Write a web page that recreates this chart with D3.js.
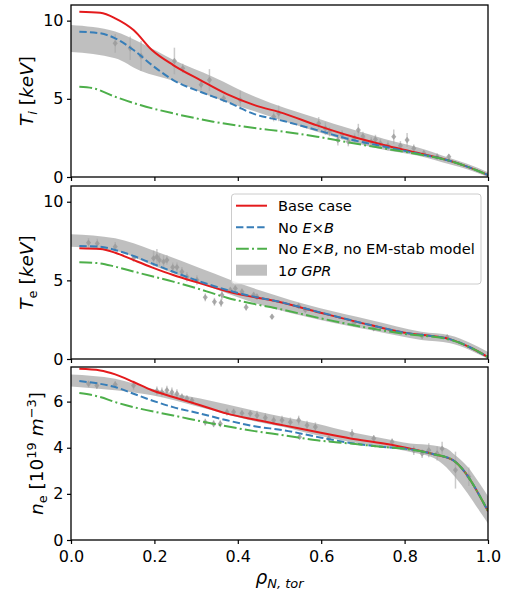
<!DOCTYPE html>
<html>
<head>
<meta charset="utf-8">
<script src="https://cdn.jsdelivr.net/npm/d3@7"></script>
<style>
  body { margin: 0; background: #fff; }
  svg { display: block; font-family: "DejaVu Sans", sans-serif; }
</style>
</head>
<body>
<svg id="chart"></svg>
<script>
// ---- data: [rho, value] ----
const xTicks = [0, 0.2, 0.4, 0.6, 0.8, 1.0];

const tiBase = [[0.02,10.57],[0.07,10.5],[0.106,10.15],[0.15,9.4],[0.194,8.12],[0.245,7.16],[0.31,6.2],[0.374,5.3],[0.44,4.6],[0.51,4.07],[0.59,3.3],[0.67,2.62],[0.75,2.05],[0.83,1.55],[0.91,1.02],[0.95,0.66],[1.0,0.13]];
const tiNoExB = [[0.02,9.29],[0.07,9.19],[0.106,8.87],[0.15,8.12],[0.194,7.16],[0.245,6.2],[0.31,5.45],[0.374,4.81],[0.44,4.02],[0.51,3.58],[0.59,3.0],[0.67,2.4],[0.75,1.95],[0.83,1.5],[0.91,1.02],[0.95,0.66],[1.0,0.13]];
const tiNoEM = [[0.02,5.77],[0.054,5.67],[0.106,5.13],[0.166,4.6],[0.245,4.07],[0.341,3.54],[0.44,3.13],[0.51,2.9],[0.59,2.58],[0.67,2.19],[0.75,1.83],[0.83,1.47],[0.91,1.02],[0.95,0.66],[1.0,0.13]];
// [rho, low, high]
const tiGpr = [[0,8.0,9.72],[0.106,7.6,9.3],[0.166,6.8,8.6],[0.245,6.15,7.5],[0.341,5.1,6.4],[0.44,4.2,5.15],[0.59,2.9,3.75],[0.75,1.75,2.45],[0.83,1.38,1.9],[0.91,0.8,1.2],[0.95,0.5,0.85],[1.0,0.0,0.3]];
// [rho, value, error]
const tiPts = [[0.106,8.55,0.6],[0.142,8.23,0.75],[0.168,7.74,0.95],[0.248,7.42,0.85],[0.268,6.95,0.3],[0.312,5.9,0.35],[0.332,6.2,0.7],[0.366,5.03,0.25],[0.406,4.92,0.6],[0.486,3.86,0.3],[0.498,4.07,0.5],[0.594,3.43,0.4],[0.61,3.1,0.4],[0.62,2.9,0.3],[0.64,2.37,0.35],[0.65,2.7,0.3],[0.665,2.26,0.3],[0.68,2.5,0.3],[0.689,3.0,0.4],[0.7,2.6,0.3],[0.704,2.26,0.3],[0.72,2.26,0.3],[0.73,2.4,0.3],[0.742,2.15,0.3],[0.76,2.0,0.3],[0.774,2.58,0.45],[0.79,2.0,0.3],[0.806,2.37,0.45],[0.822,1.83,0.25],[0.846,1.52,0.2],[0.878,1.3,0.2],[0.906,1.3,0.15]];

const teBase = [[0.02,7.04],[0.07,6.99],[0.106,6.76],[0.15,6.29],[0.194,5.83],[0.245,5.34],[0.31,4.81],[0.374,4.3],[0.454,3.86],[0.478,3.75],[0.598,2.94],[0.718,2.16],[0.8,1.67],[0.91,1.25],[0.96,0.7],[1.0,0.12]];
const teNoExB = [[0.02,7.18],[0.07,7.14],[0.106,6.93],[0.15,6.55],[0.194,6.08],[0.245,5.55],[0.31,4.92],[0.374,4.39],[0.454,3.88],[0.478,3.76],[0.598,2.96],[0.718,2.16],[0.8,1.67],[0.91,1.25],[0.96,0.7],[1.0,0.12]];
const teNoEM = [[0.02,6.15],[0.07,6.08],[0.106,5.87],[0.166,5.45],[0.245,4.92],[0.31,4.43],[0.374,3.9],[0.454,3.42],[0.478,3.3],[0.598,2.59],[0.718,1.95],[0.8,1.6],[0.91,1.22],[0.96,0.7],[1.0,0.12]];
const teGpr = [[0,7.14,7.93],[0.106,6.88,7.67],[0.194,5.98,6.93],[0.31,4.81,5.77],[0.454,3.45,4.35],[0.598,2.48,3.22],[0.718,1.84,2.48],[0.84,1.21,1.74],[0.91,1.0,1.5],[1.0,0.0,0.45]];
const tePts = [[0.042,7.39,0.3],[0.063,7.35,0.3],[0.106,7.14,0.3],[0.15,6.4,0.2],[0.198,6.4,0.5],[0.206,6.5,0.5],[0.212,6.29,0.4],[0.222,6.19,0.4],[0.23,6.29,0.3],[0.244,5.83,0.3],[0.254,5.83,0.3],[0.266,5.55,0.3],[0.278,5.23,0.3],[0.302,5.02,0.3],[0.322,3.92,0.25],[0.344,3.64,0.25],[0.36,3.58,0.25],[0.362,4.07,0.3],[0.382,4.39,0.2],[0.394,4.49,0.2],[0.41,4.28,0.2],[0.42,3.29,0.2],[0.438,4.07,0.2],[0.446,3.96,0.2],[0.482,2.69,0.15],[0.546,3.37,0.15],[0.562,3.12,0.15],[0.678,2.27,0.15],[0.726,1.95,0.15],[0.842,1.46,0.15],[0.902,1.38,0.15]];

const neBase = [[0.02,7.42],[0.07,7.35],[0.106,7.18],[0.15,6.85],[0.194,6.49],[0.245,6.2],[0.31,5.84],[0.374,5.48],[0.44,5.22],[0.51,4.97],[0.59,4.68],[0.67,4.4],[0.75,4.18],[0.814,3.96],[0.87,3.72],[0.916,3.46],[1.0,1.25]];
const neNoExB = [[0.02,6.89],[0.07,6.77],[0.106,6.63],[0.15,6.34],[0.194,6.05],[0.245,5.76],[0.31,5.48],[0.374,5.19],[0.44,4.93],[0.51,4.76],[0.59,4.47],[0.67,4.21],[0.75,4.03],[0.814,3.93],[0.87,3.72],[0.916,3.46],[1.0,1.25]];
const neNoEM = [[0.02,6.37],[0.07,6.2],[0.106,5.98],[0.166,5.69],[0.245,5.4],[0.341,5.04],[0.44,4.72],[0.51,4.54],[0.59,4.32],[0.67,4.18],[0.75,4.03],[0.814,3.92],[0.87,3.72],[0.916,3.46],[1.0,1.25]];
const neGpr = [[0,6.66,7.18],[0.106,6.49,6.99],[0.194,6.27,6.56],[0.31,5.76,6.13],[0.44,5.15,5.6],[0.51,4.9,5.33],[0.59,4.54,5.04],[0.67,4.25,4.68],[0.75,4.03,4.4],[0.814,3.82,4.18],[0.87,3.55,4.1],[0.9,3.15,3.98],[0.92,2.75,3.7],[0.95,2.05,3.2],[0.98,1.25,2.45],[1.0,0.72,1.9]];
const nePts = [[0.042,6.77,0.15],[0.062,6.7,0.15],[0.106,6.74,0.15],[0.15,6.7,0.2],[0.206,6.46,0.2],[0.218,6.41,0.2],[0.23,6.49,0.2],[0.242,6.41,0.2],[0.254,6.34,0.2],[0.266,6.2,0.15],[0.278,6.13,0.15],[0.29,6.05,0.15],[0.322,5.11,0.15],[0.342,5.04,0.15],[0.358,5.04,0.15],[0.374,5.55,0.15],[0.39,5.55,0.15],[0.41,5.5,0.15],[0.43,5.48,0.15],[0.446,5.4,0.2],[0.466,5.3,0.2],[0.486,5.19,0.2],[0.506,5.19,0.2],[0.526,5.11,0.2],[0.546,5.19,0.2],[0.548,4.47,0.1],[0.566,4.97,0.2],[0.586,4.9,0.2],[0.618,4.4,0.1],[0.674,4.61,0.2],[0.726,4.4,0.15],[0.77,4.25,0.15],[0.822,3.89,0.2],[0.842,3.75,0.2],[0.858,3.89,0.3],[0.878,3.75,0.3],[0.89,3.96,0.3],[0.922,3.03,0.8],[0.954,2.74,0.4]];

const legendLabels = ["Base case", "No E×B", "No E×B, no EM-stab model", "1σ GPR"];

// ---- layout ----
const WIDTH = 508, HEIGHT = 596;
const LEFT = 71, RIGHT = 488;
const TICK_FONT = 16, LABEL_FONT = 18.5, LEGEND_FONT = 14.6;
const COLORS = { base: "#e41a1c", noExB: "#377eb8", noEM: "#4daf4a" };

const panels = [
  { top: 5,   height: 172, ymax: 11,  yticks: [0, 5, 10],   labelX: 33, label: "ti",
    base: tiBase, noExB: tiNoExB, noEM: tiNoEM, gpr: tiGpr, pts: tiPts },
  { top: 186, height: 173, ymax: 11,  yticks: [0, 5, 10],   labelX: 33, label: "te",
    base: teBase, noExB: teNoExB, noEM: teNoEM, gpr: teGpr, pts: tePts },
  { top: 367, height: 173, ymax: 7.5, yticks: [0, 2, 4, 6], labelX: 43, label: "ne",
    base: neBase, noExB: neNoExB, noEM: neNoEM, gpr: neGpr, pts: nePts }
];

const svg = d3.select("#chart").attr("width", WIDTH).attr("height", HEIGHT);
const x = d3.scaleLinear().domain([0, 1]).range([LEFT, RIGHT]);

panels.forEach((p, i) => {
  const y = d3.scaleLinear().domain([0, p.ymax]).range([p.top + p.height, p.top]);
  const g = svg.append("g");

  g.append("clipPath").attr("id", `clip${i}`)
    .append("rect").attr("x", LEFT).attr("y", p.top)
    .attr("width", RIGHT - LEFT).attr("height", p.height);

  const plot = g.append("g").attr("clip-path", `url(#clip${i})`);

  // GPR band
  plot.append("path")
    .datum(p.gpr)
    .attr("d", d3.area().curve(d3.curveMonotoneX)
      .x(d => x(d[0])).y0(d => y(d[1])).y1(d => y(d[2])))
    .attr("fill", "#808080").attr("fill-opacity", 0.5);

  // experimental points with error bars
  const pts = plot.append("g");
  pts.selectAll("line")
    .data(p.pts).enter().append("line")
      .attr("x1", d => x(d[0])).attr("x2", d => x(d[0]))
      .attr("y1", d => y(d[1] - d[2])).attr("y2", d => y(d[1] + d[2]))
      .attr("stroke", "#a8a8a8").attr("stroke-width", 1.5).attr("stroke-opacity", 0.6);
  pts.selectAll("path")
    .data(p.pts).enter().append("path")
      .attr("d", d3.symbol(d3.symbolDiamond2, 26))
      .attr("transform", d => `translate(${x(d[0])},${y(d[1])}) scale(0.8,1)`)
      .attr("fill", "#9a9a9a").attr("fill-opacity", 0.8);

  const line = d3.line().curve(d3.curveMonotoneX).x(d => x(d[0])).y(d => y(d[1]));
  plot.append("path").datum(p.base).attr("d", line)
    .attr("fill", "none").attr("stroke", COLORS.base).attr("stroke-width", 2);
  plot.append("path").datum(p.noExB).attr("d", line)
    .attr("fill", "none").attr("stroke", COLORS.noExB).attr("stroke-width", 2)
    .attr("stroke-dasharray", "7.4,3.2");
  plot.append("path").datum(p.noEM).attr("d", line)
    .attr("fill", "none").attr("stroke", COLORS.noEM).attr("stroke-width", 2)
    .attr("stroke-dasharray", "12.8,3.2,2,3.2");

  // axes
  const yAxis = g.append("g")
    .attr("transform", `translate(${LEFT},0)`)
    .call(d3.axisLeft(y).tickValues(p.yticks).tickFormat(d3.format("d")).tickSize(4).tickPadding(3.5));
  const xAxis = g.append("g")
    .attr("transform", `translate(0,${p.top + p.height})`)
    .call(d3.axisBottom(x).tickValues(xTicks).tickFormat(i === 2 ? d3.format(".1f") : () => "")
      .tickSize(4).tickPadding(6.5));
  [yAxis, xAxis].forEach(a => {
    a.select(".domain").remove();
    a.selectAll("line").attr("stroke", "#000").attr("stroke-width", 1.2);
    a.selectAll("text").attr("font-size", TICK_FONT).attr("fill", "#000")
      .attr("font-family", "DejaVu Sans");
  });

  // frame
  g.append("rect")
    .attr("x", LEFT).attr("y", p.top)
    .attr("width", RIGHT - LEFT).attr("height", p.height)
    .attr("fill", "none").attr("stroke", "#000").attr("stroke-width", 1.3);

  // y label
  const cy = p.top + p.height / 2;
  const t = g.append("text")
    .attr("transform", `translate(${p.labelX},${cy}) rotate(-90)`)
    .attr("text-anchor", "middle")
    .attr("font-size", LABEL_FONT);
  if (p.label === "ti") {
    t.append("tspan").attr("font-style", "italic").text("T");
    t.append("tspan").attr("font-style", "italic").attr("font-size", LABEL_FONT * 0.7).attr("dy", 3.5).text("i");
    t.append("tspan").attr("dy", -3.5).text(" [");
    t.append("tspan").attr("font-style", "italic").text("keV");
    t.append("tspan").text("]");
  } else if (p.label === "te") {
    t.append("tspan").attr("font-style", "italic").text("T");
    t.append("tspan").attr("font-size", LABEL_FONT * 0.7).attr("dy", 3.5).text("e");
    t.append("tspan").attr("dy", -3.5).text(" [");
    t.append("tspan").attr("font-style", "italic").text("keV");
    t.append("tspan").text("]");
  } else {
    t.append("tspan").attr("font-style", "italic").text("n");
    t.append("tspan").attr("font-size", LABEL_FONT * 0.7).attr("dy", 3.5).text("e");
    t.append("tspan").attr("dy", -3.5).text(" [10");
    t.append("tspan").attr("font-size", LABEL_FONT * 0.7).attr("dy", -7).text("19");
    t.append("tspan").attr("dy", 7).text(" ");
    t.append("tspan").attr("font-style", "italic").text("m");
    t.append("tspan").attr("font-size", LABEL_FONT * 0.7).attr("dy", -7).text("−3");
    t.append("tspan").attr("dy", 7).text("]");
  }
});

// x label
const xl = svg.append("text")
  .attr("x", (LEFT + RIGHT) / 2).attr("y", 584)
  .attr("text-anchor", "middle").attr("font-size", LABEL_FONT).attr("font-style", "italic");
xl.append("tspan").text("ρ");
xl.append("tspan").attr("font-size", LABEL_FONT * 0.7).attr("dy", 3.5).text("N, tor");

// legend in the middle panel
const lg = svg.append("g").attr("font-size", LEGEND_FONT);
lg.append("rect")
  .attr("x", 231.5).attr("y", 194).attr("width", 249.5).attr("height", 90)
  .attr("rx", 3).attr("fill", "#fff").attr("fill-opacity", 0.8)
  .attr("stroke", "#cccccc").attr("stroke-width", 1);

const rowY = [205.7, 227.2, 248.7, 270.2];
const handles = [
  { color: COLORS.base, dash: null },
  { color: COLORS.noExB, dash: "7.4,3.2" },
  { color: COLORS.noEM, dash: "12.8,3.2,2,3.2" }
];
handles.forEach((h, i) => {
  lg.append("line")
    .attr("x1", 236).attr("x2", 267).attr("y1", rowY[i]).attr("y2", rowY[i])
    .attr("stroke", h.color).attr("stroke-width", 2)
    .attr("stroke-dasharray", h.dash);
});
lg.append("rect")
  .attr("x", 236).attr("y", rowY[3] - 5.5).attr("width", 31).attr("height", 11)
  .attr("fill", "#808080").attr("fill-opacity", 0.5);

function legendText(i) {
  return lg.append("text").attr("x", 278).attr("y", rowY[i] + 5.3);
}
legendText(0).text(legendLabels[0]);
let lt = legendText(1);
lt.append("tspan").text("No ");
lt.append("tspan").attr("font-style", "italic").text("E");
lt.append("tspan").text("×");
lt.append("tspan").attr("font-style", "italic").text("B");
lt = legendText(2);
lt.append("tspan").text("No ");
lt.append("tspan").attr("font-style", "italic").text("E");
lt.append("tspan").text("×");
lt.append("tspan").attr("font-style", "italic").text("B");
lt.append("tspan").text(", no EM-stab model");
lt = legendText(3);
lt.append("tspan").text("1");
lt.append("tspan").attr("font-style", "italic").text("σ GPR");
</script>
</body>
</html>
